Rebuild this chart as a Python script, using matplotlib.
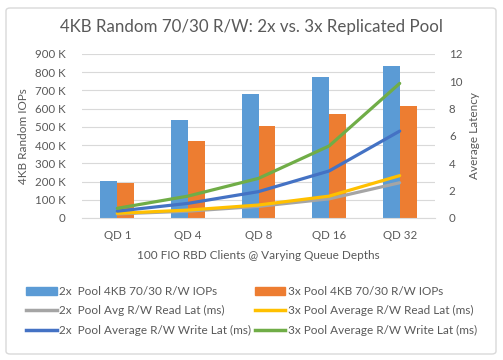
import matplotlib
matplotlib.use("Agg")
import matplotlib.pyplot as plt
import numpy as np
from matplotlib.patches import FancyBboxPatch, Patch
from matplotlib.lines import Line2D
from matplotlib.ticker import FuncFormatter

plt.rcParams['font.family'] = ['Lato', 'DejaVu Sans']

# Data
categories = ["QD 1", "QD 4", "QD 8", "QD 16", "QD 32"]
iops_2x = [205000, 540000, 678000, 776000, 832000]
iops_3x = [190000, 420000, 507000, 572000, 617000]
read_lat_2x = [0.30, 0.50, 0.85, 1.40, 2.58]
read_lat_3x = [0.34, 0.58, 0.95, 1.60, 3.10]
write_lat_2x = [0.50, 1.07, 1.93, 3.44, 6.36]
write_lat_3x = [0.71, 1.60, 2.90, 5.27, 9.85]

text_col = "#595959"
c_blue = "#5B9BD5"
c_orange = "#ED7D31"
c_gray = "#A5A5A5"
c_yellow = "#FFC000"
c_dblue = "#4472C4"
c_green = "#70AD47"

fig = plt.figure(figsize=(5.03, 3.6), dpi=100)
ax = fig.add_axes([82 / 503, 1 - 218 / 360, 353 / 503, 164 / 360])
ax2 = ax.twinx()

# chart border
fig.patches.append(FancyBboxPatch((6 / 503, 6 / 360), 490 / 503, 346 / 360,
                                  boxstyle="round,pad=0,rounding_size=0.008",
                                  transform=fig.transFigure, fill=False,
                                  edgecolor="#D9D9D9", linewidth=1))

x = np.arange(len(categories))
w = 0.24
ax.bar(x - w / 2, iops_2x, w, color=c_blue, zorder=2)
ax.bar(x + w / 2, iops_3x, w, color=c_orange, zorder=2)

ax.set_ylim(0, 900000)
ax.set_yticks(np.arange(0, 900001, 100000))
ax.yaxis.set_major_formatter(FuncFormatter(lambda v, p: "0" if v == 0 else "%d K" % (v / 1000)))
ax.set_xlim(-0.5, len(categories) - 0.5)
ax.set_xticks(x)
ax.set_xticklabels(categories)
ax.grid(axis="y", color="#D9D9D9", linewidth=0.8, zorder=0)
ax.set_axisbelow(True)

lw = 2.3
ax2.plot(x, read_lat_2x, color=c_gray, lw=lw, solid_capstyle="round")
ax2.plot(x, read_lat_3x, color=c_yellow, lw=lw, solid_capstyle="round")
ax2.plot(x, write_lat_2x, color=c_dblue, lw=lw, solid_capstyle="round")
ax2.plot(x, write_lat_3x, color=c_green, lw=lw, solid_capstyle="round")
ax2.set_ylim(0, 12)
ax2.set_yticks(np.arange(0, 13, 2))

for a in (ax, ax2):
    for s in a.spines.values():
        s.set_visible(False)
    a.tick_params(length=0, colors=text_col, labelsize=8.3)
ax.spines["bottom"].set_visible(True)
ax.spines["bottom"].set_color("#D9D9D9")
ax.tick_params(axis="y", pad=12)
ax2.tick_params(axis="y", pad=10)
ax.tick_params(axis="x", pad=9)

ax.set_ylabel("4KB Random IOPs", color=text_col, fontsize=8.5, labelpad=4)
ax2.set_ylabel("Average Latency", color=text_col, fontsize=8.5, labelpad=5)
ax.set_xlabel("100 FIO RBD Clients @ Varying Queue Depths", color=text_col, fontsize=8.5, labelpad=6)

fig.text(0.5, 1 - 27 / 360, "4KB Random 70/30 R/W: 2x vs. 3x Replicated Pool",
         ha="center", va="center", fontsize=12.2, color=text_col)

handles = [
    Patch(color=c_blue), Line2D([], [], color=c_gray, lw=2.5), Line2D([], [], color=c_dblue, lw=2.5),
    Patch(color=c_orange), Line2D([], [], color=c_yellow, lw=2.5), Line2D([], [], color=c_green, lw=2.5),
]
labels = [
    "2x  Pool 4KB 70/30 R/W IOPs", "2x  Pool Avg R/W Read Lat (ms)", "2x  Pool Average R/W Write Lat (ms)",
    "3x Pool 4KB 70/30 R/W IOPs", "3x Pool Average R/W Read Lat (ms)", "3x Pool Average R/W Write Lat (ms)",
]
leg = fig.legend(handles, labels, ncol=2, loc="center", bbox_to_anchor=(0.5, 1 - 311 / 360),
                 frameon=False, fontsize=8.5, handlelength=2.6, handletextpad=0.2,
                 columnspacing=0.3, labelspacing=0.72, labelcolor=text_col)

fig.savefig("out.png", dpi=100)
